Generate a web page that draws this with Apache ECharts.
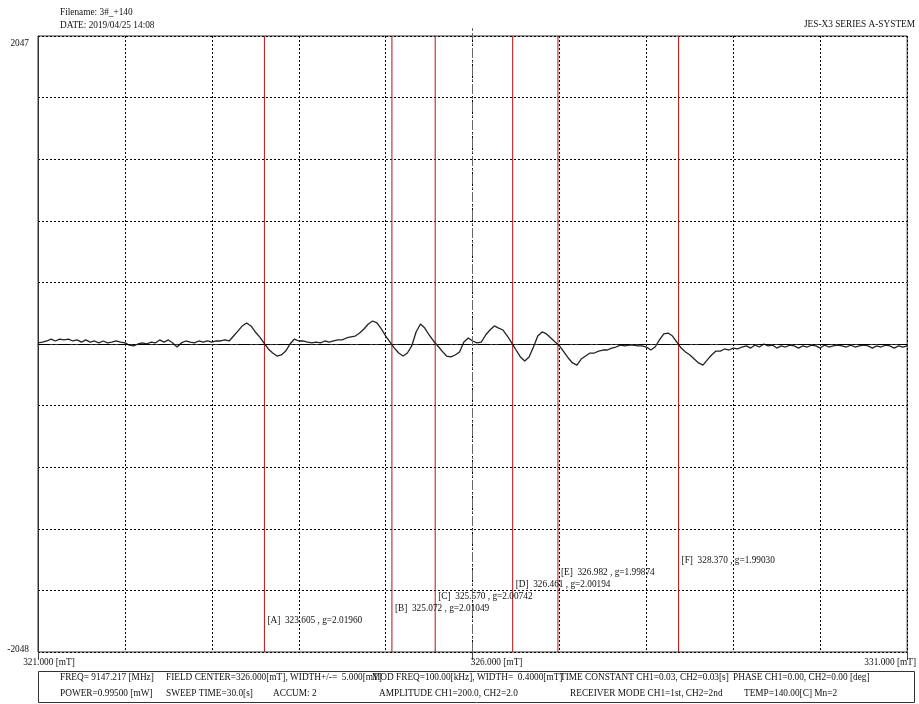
<!DOCTYPE html>
<html><head><meta charset="utf-8">
<script src="https://cdn.jsdelivr.net/npm/echarts@6/dist/echarts.min.js"></script>
<style>html,body{margin:0;padding:0;background:#fff}#c{width:919px;height:704px}</style>
</head><body><div id="c"></div>
<script>
// ---------- data ----------
const FIELD_RANGE = [321, 331];
const SIGNAL_RANGE = [-2047.5, 2047.5];
const FIELD_GRID_STEP = 1;
const X_TICK_VALUES = [321, 326, 331];
const X_TICK_LABELS = ['321.000 [mT]', '326.000 [mT]', '331.000 [mT]'];
const Y_TICK_LABELS = ['-2048', '2047'];

const SPECTRUM = [
[321.00,7],[321.05,13],[321.10,20],[321.15,33],[321.20,20],[321.25,33],[321.30,27],[321.35,33],[321.40,20],[321.45,27],
[321.50,13],[321.55,27],[321.60,13],[321.65,20],[321.70,7],[321.75,20],[321.80,7],[321.85,13],[321.90,20],[321.95,13],
[322.00,7],[322.05,-7],[322.10,-13],[322.15,0],[322.20,7],[322.25,0],[322.30,13],[322.35,7],[322.40,27],[322.45,13],
[322.50,27],[322.55,7],[322.60,-20],[322.65,7],[322.70,20],[322.75,13],[322.80,7],[322.85,20],[322.90,13],[322.95,20],
[323.00,13],[323.05,20],[323.10,20],[323.15,27],[323.20,20],[323.25,53],[323.30,86],[323.35,120],[323.40,140],[323.45,120],
[323.50,80],[323.55,47],[323.60,7],[323.65,-33],[323.70,-60],[323.75,-80],[323.80,-73],[323.85,-47],[323.90,0],[323.95,33],
[324.00,20],[324.05,20],[324.10,13],[324.15,7],[324.20,13],[324.25,7],[324.30,20],[324.35,13],[324.40,20],[324.45,27],
[324.50,27],[324.55,40],[324.60,47],[324.65,53],[324.70,73],[324.75,100],[324.80,133],[324.85,153],[324.90,140],[324.95,100],
[325.00,53],[325.05,13],[325.10,-27],[325.15,-60],[325.20,-80],[325.25,-60],[325.30,-13],[325.35,80],[325.40,133],[325.45,106],
[325.50,60],[325.55,20],[325.60,-13],[325.65,-47],[325.70,-80],[325.75,-86],[325.80,-73],[325.85,-53],[325.90,13],[325.95,40],
[326.00,20],[326.05,7],[326.10,13],[326.15,60],[326.20,93],[326.25,120],[326.30,106],[326.35,93],[326.40,53],[326.45,7],
[326.50,-40],[326.55,-86],[326.60,-113],[326.65,-86],[326.70,-20],[326.75,53],[326.80,80],[326.85,67],[326.90,40],[326.95,13],
[327.00,-13],[327.05,-53],[327.10,-93],[327.15,-126],[327.20,-140],[327.25,-100],[327.30,-80],[327.35,-60],[327.40,-60],[327.45,-47],
[327.50,-40],[327.55,-40],[327.60,-27],[327.65,-20],[327.70,-7],[327.75,-13],[327.80,-7],[327.85,-7],[327.90,-13],[327.95,-13],
[328.00,-20],[328.05,-40],[328.10,-20],[328.15,27],[328.20,67],[328.25,73],[328.30,53],[328.35,13],[328.40,-27],[328.45,-53],
[328.50,-73],[328.55,-100],[328.60,-126],[328.65,-140],[328.70,-106],[328.75,-73],[328.80,-47],[328.85,-47],[328.90,-33],[328.95,-40],
[329.00,-27],[329.05,-33],[329.10,-20],[329.15,-13],[329.20,-27],[329.25,-7],[329.30,-20],[329.35,0],[329.40,-13],[329.45,-7],
[329.50,-27],[329.55,-13],[329.60,-20],[329.65,-7],[329.70,-13],[329.75,-27],[329.80,-13],[329.85,-20],[329.90,-7],[329.95,-13],
[330.00,-27],[330.05,-7],[330.10,-20],[330.15,-13],[330.20,-7],[330.25,-13],[330.30,-20],[330.35,-7],[330.40,-20],[330.45,-13],
[330.50,-7],[330.55,-13],[330.60,-27],[330.65,-13],[330.70,-20],[330.75,-7],[330.80,-13],[330.85,-27],[330.90,-13],[330.95,-20],
[331.00,-13]
];

const MARKER_NAMES = ['A', 'B', 'C', 'D', 'E', 'F'];
const MARKER_FIELDS = [323.605, 325.072, 325.570, 326.461, 326.982, 328.370];
const MARKER_G = ['2.01960', '2.01049', '2.00742', '2.00194', '1.99874', '1.99030'];

const HEADER_LINES = ['Filename: 3#_+140', 'DATE: 2019/04/25 14:08'];
const SYSTEM_NAME = 'JES-X3 SERIES A-SYSTEM';
const INFO_ROW1 = ['FREQ= 9147.217 [MHz]', 'FIELD CENTER=326.000[mT], WIDTH+/-=  5.000[mT]', 'MOD FREQ=100.00[kHz], WIDTH=  0.4000[mT]', 'TIME CONSTANT CH1=0.03, CH2=0.03[s]', 'PHASE CH1=0.00, CH2=0.00 [deg]'];
const INFO_ROW2 = ['POWER=0.99500 [mW]', 'SWEEP TIME=30.0[s]', 'ACCUM: 2', 'AMPLITUDE CH1=200.0, CH2=2.0', 'RECEIVER MODE CH1=1st, CH2=2nd', 'TEMP=140.00[C] Mn=2'];

// ---------- layout / style ----------
const FONT = '"Liberation Serif", "Times New Roman", serif';
const FS = 9.3;
const TEXT_COLOR = '#111';
const MARKER_COLOR = '#b81212';
const INFO_ROW1_X = [60, 166, 372, 560, 733];
const INFO_ROW2_X = [60, 166, 273, 379, 570, 744];
const X_LABEL_RICH = ['l', 'c', 'r'];

const chart = echarts.init(document.getElementById('c'), null, {renderer: 'canvas'});

const txt = (t, x, y, align) => ({type: 'text', x: x, y: y, silent: true,
  style: {text: t, fill: TEXT_COLOR, font: FS + 'px ' + FONT, verticalAlign: 'middle', align: align || 'left'}});
const graphics = [];
HEADER_LINES.forEach((t, i) => graphics.push(txt(t, 60, 13 + i * 13)));
graphics.push(txt(SYSTEM_NAME, 915, 25, 'right'));
graphics.push({type: 'rect', silent: true, shape: {x: 38.5, y: 671.5, width: 876, height: 31},
  style: {fill: 'none', stroke: '#333', lineWidth: 1}});
INFO_ROW1.forEach((t, i) => graphics.push(txt(t, INFO_ROW1_X[i], 678)));
INFO_ROW2.forEach((t, i) => graphics.push(txt(t, INFO_ROW2_X[i], 694)));

const markerLabelData = MARKER_FIELDS.map((f, i) => ({
  value: [f, SIGNAL_RANGE[0] + 207 + 80 * i],
  label: {formatter: '[' + MARKER_NAMES[i] + ']  ' + f.toFixed(3) + ' , g=' + MARKER_G[i]}
}));

const markerLineSeries = MARKER_FIELDS.map((f, i) => ({
  name: 'marker ' + MARKER_NAMES[i], type: 'line', silent: true, z: 1, showSymbol: false, symbol: 'none',
  color: MARKER_COLOR,
  data: [[f, SIGNAL_RANGE[0]], [f, SIGNAL_RANGE[1]]],
  lineStyle: {color: MARKER_COLOR, width: 1, type: 'solid'}
}));

const option = {
  animation: false,
  backgroundColor: '#fff',
  textStyle: {fontFamily: FONT},
  grid: {left: 38, right: 9, top: 36, bottom: 52, show: true, borderColor: '#333', borderWidth: 1, backgroundColor: 'transparent'},
  xAxis: [{
    type: 'value', min: FIELD_RANGE[0], max: FIELD_RANGE[1], interval: FIELD_GRID_STEP,
    axisLine: {show: true, lineStyle: {color: '#333'}},
    axisTick: {show: false},
    axisLabel: {show: false},
    splitLine: {show: true, lineStyle: {color: '#000', width: 1, type: [2, 2]}}
  }, {
    type: 'value', position: 'bottom', offset: 0, min: FIELD_RANGE[0], max: FIELD_RANGE[1],
    axisLine: {show: false},
    axisTick: {show: true, customValues: X_TICK_VALUES, length: 8, lineStyle: {color: '#444'}},
    axisLabel: {
      show: true, customValues: X_TICK_VALUES, margin: 6, color: TEXT_COLOR, fontFamily: FONT, fontSize: FS, align: 'center',
      formatter: v => { const i = X_TICK_VALUES.indexOf(Math.round(v)); return i < 0 ? '' : '{' + X_LABEL_RICH[i] + '|' + X_TICK_LABELS[i] + '}'; },
      rich: {
        l: {padding: [0, 0, 0, 22], fontFamily: FONT, fontSize: FS, color: TEXT_COLOR},
        c: {padding: [0, 0, 0, 48], fontFamily: FONT, fontSize: FS, color: TEXT_COLOR},
        r: {padding: [0, 34, 0, 0], fontFamily: FONT, fontSize: FS, color: TEXT_COLOR}
      }
    },
    splitLine: {show: false}
  }, {
    type: 'value', position: 'top', min: FIELD_RANGE[0], max: FIELD_RANGE[1],
    axisLine: {show: false},
    axisTick: {show: true, customValues: [X_TICK_VALUES[1]], length: 9, lineStyle: {color: '#666', type: [3, 2]}},
    axisLabel: {show: false},
    splitLine: {show: false}
  }],
  yAxis: {
    type: 'value', min: SIGNAL_RANGE[0], max: SIGNAL_RANGE[1], interval: (SIGNAL_RANGE[1] - SIGNAL_RANGE[0]) / 10,
    axisLine: {show: true, lineStyle: {color: '#333'}},
    axisTick: {show: false},
    axisLabel: {
      show: true, customValues: SIGNAL_RANGE, margin: 9, color: TEXT_COLOR, fontFamily: FONT, fontSize: FS,
      formatter: v => v > 0 ? '{t|' + Y_TICK_LABELS[1] + '}' : (v < 0 ? '{b|' + Y_TICK_LABELS[0] + '}' : ''),
      rich: {
        t: {padding: [16, 0, 0, 0], fontFamily: FONT, fontSize: FS, color: TEXT_COLOR},
        b: {padding: [0, 0, 4, 0], fontFamily: FONT, fontSize: FS, color: TEXT_COLOR}
      }
    },
    splitLine: {show: true, lineStyle: {color: '#000', width: 1, type: [2, 2]}}
  },
  graphic: graphics,
  series: markerLineSeries.concat([{
    name: 'marker labels', type: 'scatter', data: markerLabelData, symbolSize: 0, silent: true, z: 2,
    itemStyle: {opacity: 1},
    label: {show: true, position: 'right', distance: 3, color: TEXT_COLOR, opacity: 1, fontFamily: FONT, fontSize: FS}
  }, {
    name: 'spectrum', type: 'line', data: SPECTRUM, showSymbol: false, symbol: 'none', silent: true, z: 3,
    color: '#222',
    lineStyle: {color: '#222', width: 1.3},
    markLine: {
      silent: true, symbol: 'none', label: {show: false},
      data: [
        {yAxis: 0, lineStyle: {color: '#000', width: 1, type: [12, 3, 2, 3]}},
        {xAxis: X_TICK_VALUES[1], lineStyle: {color: '#666', width: 1, type: [10, 3, 2, 3]}}
      ]
    }
  }])
};
chart.setOption(option);
</script></body></html>
